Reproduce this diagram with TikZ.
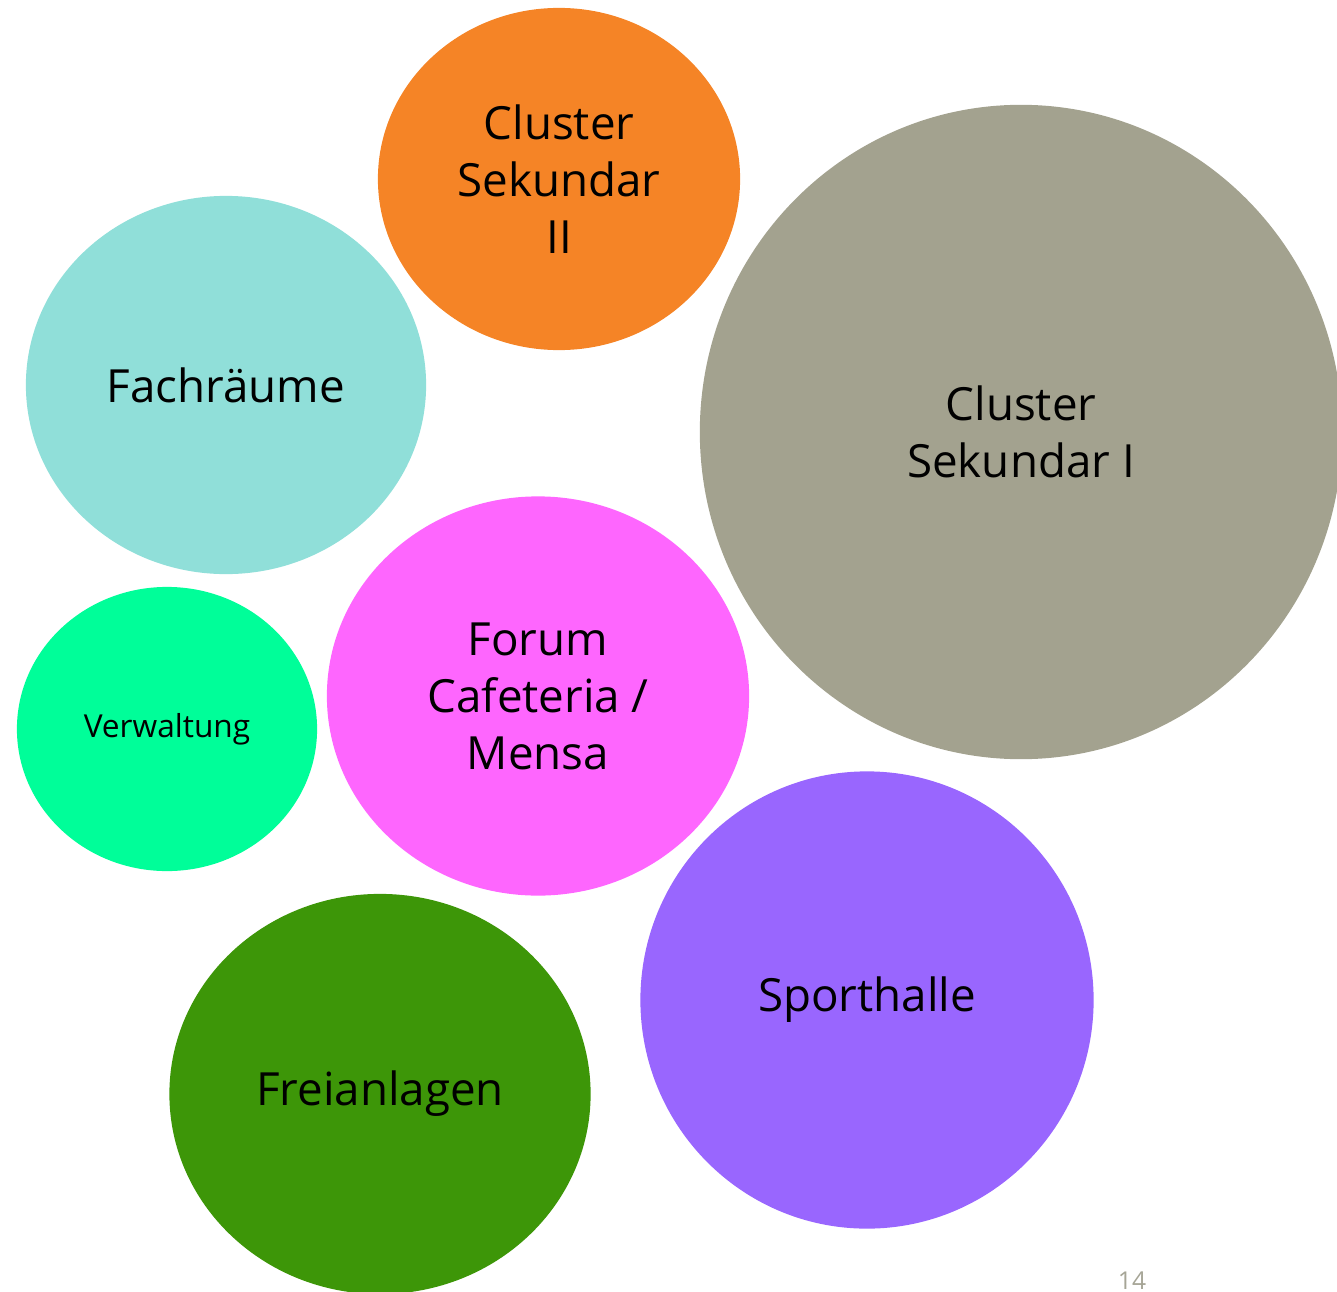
\documentclass[tikz,border=0pt]{standalone}
\usepackage{fontspec}
\setmainfont{Open Sans}
\usetikzlibrary{shapes.geometric}

\definecolor{sekzwei}{HTML}{F58426}
\definecolor{fach}{HTML}{90DFD9}
\definecolor{sekeins}{HTML}{A3A28F}
\definecolor{verw}{HTML}{00FE99}
\definecolor{forum}{HTML}{FE66FE}
\definecolor{sport}{HTML}{9966FE}
\definecolor{frei}{HTML}{3D9608}
\definecolor{pagenr}{HTML}{A6A596}

\begin{document}
\begin{tikzpicture}[x=0.01cm,y=-0.01cm,
   bubble/.style={ellipse,draw=none,align=center,inner sep=0pt,font=\fontsize{13}{16.2}\selectfont}]

   \useasboundingbox (0,0) rectangle (1337,1291);
   \clip (0,0) rectangle (1337,1291);

   % Bubbles
      \node[bubble,fill=sekzwei,minimum width=3.62cm,minimum height=3.42cm] (sek2)  at (559,179)  {Cluster\\Sekundar\\II};
      \node[bubble,fill=fach,minimum width=4.00cm,minimum height=3.78cm]    (fach)  at (226,385)  {Fachräume};
      \node[bubble,fill=sekeins,minimum width=6.42cm,minimum height=6.54cm] (sek1)  at (1021,432) {Cluster\\Sekundar I};
      \node[bubble,fill=verw,minimum width=3.00cm,minimum height=2.84cm,font=\fontsize{9}{11}\selectfont] (verw) at (167,729) {Verwaltung};
      \node[bubble,fill=forum,minimum width=4.22cm,minimum height=3.99cm]   (forum) at (538,696)  {Forum\\Cafeteria /\\Mensa};
      \node[bubble,fill=sport,minimum width=4.53cm,minimum height=4.57cm]   (sport) at (867,1000) {Sporthalle};
      \node[bubble,fill=frei,minimum width=4.21cm,minimum height=4.00cm]    (frei)  at (380,1094) {Freianlagen};

   % Page number
      \node[text=pagenr,font=\fontsize{7}{8}\selectfont] (nr) at (1132,1281) {14};
\end{tikzpicture}
\end{document}
